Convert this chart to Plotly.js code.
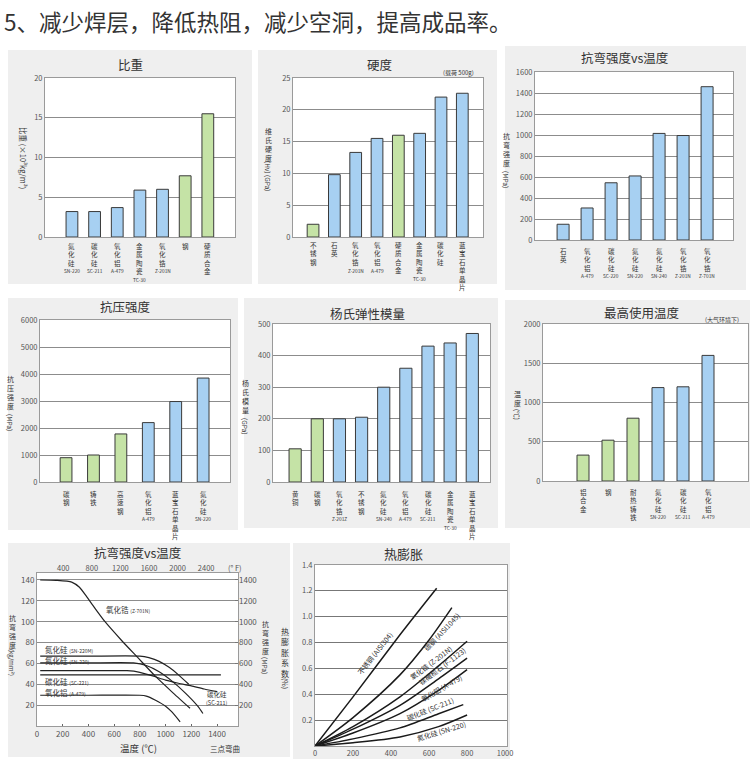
<!DOCTYPE html>
<html><head><meta charset="utf-8">
<script src="https://cdn.plot.ly/plotly-3.0.1.min.js"></script>
<style>html,body{margin:0;padding:0;background:#fff}#chart{width:750px;height:759px}</style>
</head><body><div id="chart"></div>
<script>
// ================= DATA =================
// 比重
const sgCats=['氮化硅','碳化硅','氧化铝','金属陶瓷','氧化锆','钢','硬质合金'];
const sgModels=['SN-220','SC-211','A-479','TC-30','Z-201N','',''];
const sgVals=[3.2,3.2,3.7,5.9,6.0,7.7,15.5];
const sgGroups=['c','c','c','c','c','m','m'];
// 硬度
const hdCats=['不锈钢','石英','氧化锆','氧化铝','硬质合金','金属陶瓷','碳化硅','蓝宝石单晶片'];
const hdModels=['','','Z-201N','A-479','','TC-30','',''];
const hdVals=[2.0,9.8,13.3,15.5,16.0,16.3,22.0,22.6];
const hdGroups=['m','c','c','c','m','c','c','c'];
// 抗弯强度
const fsCats=['石英','氧化铝','碳化硅','氮化硅','氮化硅','氧化锆','氧化锆'];
const fsModels=['','A-479','SC-220','SN-220','SN-240','Z-201N','Z-701N'];
const fsVals=[150,305,545,610,1015,995,1460];
const fsGroups=['c','c','c','c','c','c','c'];
// 抗压强度
const csCats=['碳钢','铸铁','高速钢','氧化铝','蓝宝石单晶片','氮化硅'];
const csModels=['','','','A-479','','SN-220'];
const csVals=[900,1000,1780,2200,2980,3850];
const csGroups=['m','m','m','c','c','c'];
// 杨氏弹性模量
const ymCats=['黄铜','碳钢','氧化锆','不锈钢','氮化硅','氧化铝','碳化硅','金属陶瓷','蓝宝石单晶片'];
const ymModels=['','','Z-201Z','','SN-240','A-479','SC-211','TC-30',''];
const ymVals=[105,200,200,205,300,360,430,440,470];
const ymGroups=['m','m','c','c','c','c','c','c','c'];
// 最高使用温度
const mtCats=['铝合金','钢','耐热铸铁','氮化硅','碳化硅','氧化铝'];
const mtModels=['','','','SN-220','SC-211','A-479'];
const mtVals=[330,520,800,1190,1200,1600];
const mtGroups=['m','m','m','c','c','c'];
// 抗弯强度 vs 温度 (°C, kg/mm²)
const btNames=['氧化锆','氮化硅','氮化硅','碳化硅','碳化硅','氧化铝'];
const btModels=['(Z-701N)','(SN-220M)','(SN-220)','(SC-211)','(SC-221)','(A-479)'];
const btT=[
 [25,150,270,330,386,450,529,658,788,918,1047,1190],
 [25,400,800,870,950,1030,1100,1180],
 [25,400,750,850,950,1050,1150,1250,1290],
 [25,400,700,800,900,1000,1100,1200,1300,1400],
 [25,1430],
 [25,400,800,850,918,1000,1047,1113]
];
const btS=[
 [140,139.6,138,133,124,113,100,82,65,48,33,17],
 [67,67,67,65.5,62,56,49,40],
 [60.5,60.5,60.5,58,52,43,32,19,12],
 [53,53,53,51.5,48,44,41,38.5,35.5,33],
 [49,49],
 [29.5,29.5,29.5,28.7,25,19,13.7,4]
];
const btLeftTicks=[20,40,60,80,100,120,140];
const btRightTicks=[200,400,600,800,1000,1200,1400];
const btTopTicks=[400,800,1200,1600,2000,2400,2800];
const btTopText=['400','800','1200','1600','2000','2400','(° F)'];
// 热膨胀 (°C, %)
const teNames=['不锈钢','碳钢','氧化锆','镁橄榄石','氧化铝','碳化硅','氮化硅'];
const teModels=['(AISI304)','(AISI1045)','(Z-201N)','(F-1123)','(A-479)','(SC-211)','(SN-220)'];
const teT=[[0,200,447,640],[0,200,447,600,720],[0,200,447,650,800],[0,200,447,650,800],[0,200,447,650,800],[0,200,447,650,780],[0,200,447,650,800]];
const teE=[[0,0.38,0.86,1.22],[0,0.22,0.55,0.82,1.07],[0,0.15,0.38,0.62,0.81],[0,0.13,0.315,0.52,0.68],[0,0.1,0.25,0.43,0.59],[0,0.055,0.14,0.25,0.32],[0,0.025,0.07,0.15,0.24]];

// ================= STYLE / LAYOUT =================
const W=750,H=759;
const fx=x=>x/W, fy=y=>1-y/H;
const FONT='"Noto Sans CJK SC","Noto Sans",sans-serif';
const BLUE='#a7d0f2', GREEN='#c5e3a6', EDGE='#3a3a3a', GRID='#8c8c8c', CARD='#efefef', TXT='#333', TICK='#555';
const axN=(t,n)=>t+'axis'+(n===1?'':n), axR=(t,n)=>t+(n===1?'':n);
const CH=6.5, CSTEP=CH*1.3;

const traces=[], annotations=[], shapes=[];
const layout={width:W,height:H,margin:{l:0,r:0,t:0,b:0},paper_bgcolor:'#fff',plot_bgcolor:'rgba(0,0,0,0)',
  showlegend:false,font:{family:FONT,color:TXT},annotations,shapes};

function ann(o){annotations.push(Object.assign({showarrow:false,xref:'paper',yref:'paper',xanchor:'center',yanchor:'middle',borderpad:0,font:{family:FONT,size:8,color:TXT}},o));}
function ptxt(xpx,ypx,text,size,extra){ann(Object.assign({x:fx(xpx),y:fy(ypx),text,font:{family:FONT,size,color:TXT}},extra||{}));}
// vertical (top-to-bottom) text; ypx0 = centre of first character
function vstack(xpx,ypx0,str,size){ptxt(xpx,ypx0-size*0.65,[...str].join('<br>'),size,{yanchor:'top'});}
function card(c,b){
  shapes.push({type:'rect',xref:'paper',yref:'paper',x0:fx(c[0]),x1:fx(c[1]),y0:fy(c[3]),y1:fy(c[2]),fillcolor:CARD,line:{width:0},layer:'below'});
  shapes.push({type:'rect',xref:'paper',yref:'paper',x0:fx(b[0]),x1:fx(b[1]),y0:fy(b[3]),y1:fy(b[2]),fillcolor:'#fff',line:{width:0},layer:'below'});
}

const barPanels=[
 {n:1,cats:sgCats,models:sgModels,vals:sgVals,groups:sgGroups,title:'比重',tp:[130,65],box:[45,235,78,237],card:[8,252,50,284],xr:[-1.19,7.2],bw:0.52,yr:[0,20],dt:5,off:7,
  ylab:{rot:'比重 (×10³kg/m³)',x:24,y:158}},
 {n:2,cats:hdCats,models:hdModels,vals:hdVals,groups:hdGroups,title:'硬度',tp:[380,64],box:[293,483,78,237],card:[258,497,50,284],xr:[-0.94,7.97],bw:0.55,yr:[0,25],dt:5,off:6.5,
  ylab:{cjk:'维氏硬度',x:268,y:130,unit:'(Hv) (GPa)',uy:176},note:{t:'(载荷 500g)',x:458,y:73}},
 {n:3,cats:fsCats,models:fsModels,vals:fsVals,groups:fsGroups,title:'抗弯强度vs温度',tp:[625,58],box:[535,733,72,240],card:[505,746,46,290],xr:[-1.17,7.08],bw:0.5,yr:[0,1600],dt:200,off:9,
  ylab:{cjk:'抗弯强度',x:506,y:135,unit:'(MPa)',uy:179}},
 {n:4,cats:csCats,models:csModels,vals:csVals,groups:csGroups,title:'抗压强度',tp:[125,307],box:[40,230,320,482],card:[8,238,298,530],xr:[-0.95,5.98],bw:0.43,yr:[0,6000],dt:1000,off:10,
  ylab:{cjk:'抗压强度',x:10,y:378,unit:'(MPa)',uy:422}},
 {n:5,cats:ymCats,models:ymModels,vals:ymVals,groups:ymGroups,title:'杨氏弹性模量',tp:[367,313],box:[273,490,324,482],card:[244,498,298,528],xr:[-1.0,8.8],bw:0.55,yr:[0,500],dt:100,off:10,
  ylab:{cjk:'杨氏模量',x:245,y:382,unit:'(GPa)',uy:426}},
 {n:6,cats:mtCats,models:mtModels,vals:mtVals,groups:mtGroups,title:'最高使用温度',tp:[642,312],box:[543,748,324,481],card:[505,750,300,528],xr:[-1.6,6.6],bw:0.48,yr:[0,2000],dt:500,off:9,
  ylab:{cjk:'温度',x:517,y:393,unit:'(℃)',uy:414},note:{t:'(大气环境下)',x:722,y:319}}
];

barPanels.forEach(p=>{
  const [L,R,T,B]=p.box;
  card(p.card,p.box);
  const xa=axR('x',p.n), ya=axR('y',p.n);
  traces.push({type:'bar',x:p.cats.map((c,i)=>i),y:p.vals,xaxis:xa,yaxis:ya,width:p.bw,hoverinfo:'skip',
    marker:{color:p.groups.map(g=>g==='m'?GREEN:BLUE),line:{color:EDGE,width:1}}});
  layout[axN('x',p.n)]={domain:[fx(L),fx(R)],range:p.xr,anchor:ya,showticklabels:false,showgrid:false,zeroline:false,
    showline:true,mirror:true,linecolor:'#9a9a9a',linewidth:1,ticks:'',fixedrange:true};
  layout[axN('y',p.n)]={domain:[fy(B),fy(T)],range:p.yr,dtick:p.dt,tick0:0,anchor:xa,showgrid:true,gridcolor:GRID,gridwidth:1,
    zeroline:false,showline:true,mirror:true,linecolor:'#9a9a9a',linewidth:1,ticks:'',tickfont:{size:7.5,color:TICK},fixedrange:true};
  ptxt(p.tp[0],p.tp[1],p.title,12.5);
  if(p.note) ptxt(p.note.x,p.note.y,p.note.t,6);
  // category labels: stacked vertical characters + small model code
  p.cats.forEach((c,i)=>{
    const chars=[...c];
    ann({xref:xa,x:i,y:fy(B+p.off-CH*0.65),yanchor:'top',text:chars.join('<br>'),font:{family:FONT,size:CH,color:TXT}});
    if(p.models[i]) ann({xref:xa,x:i,y:fy(B+p.off+(chars.length-1)*CSTEP+10),text:p.models[i],font:{family:FONT,size:4.8,color:TXT}});
  });
  const yl=p.ylab;
  if(yl.rot){ptxt(yl.x,yl.y,yl.rot,7.5,{textangle:90});}
  else{vstack(yl.x,yl.y,yl.cjk,7);ptxt(yl.x,yl.uy,yl.unit,6.5,{textangle:90});}
});

// ---------- Panel 7: 抗弯强度 vs 温度 (lines) ----------
{
  const L=37,R=238,T=573,B=726;
  card([8,290,543,757],[L,R,T,B]);
  btT.forEach((t,k)=>traces.push({type:'scatter',mode:'lines',x:t,y:btS[k],xaxis:'x7',yaxis:'y7',hoverinfo:'skip',
    line:{color:'#222',width:1.2,shape:'spline',smoothing:0.6}}));
  traces.push({type:'scatter',mode:'none',x:[null],y:[null],xaxis:'x9',yaxis:'y9',hoverinfo:'skip'});
  layout.xaxis7={domain:[fx(L),fx(R)],range:[0,1563],anchor:'y7',dtick:200,tick0:0,showgrid:false,zeroline:false,showline:true,mirror:true,
    linecolor:'#9a9a9a',ticks:'inside',ticklen:2,tickcolor:'#666',tickfont:{size:8,color:TICK},fixedrange:true};
  layout.yaxis7={domain:[fy(B),fy(T)],range:[0,146.7],anchor:'x7',tickvals:btLeftTicks,showgrid:true,gridcolor:GRID,zeroline:false,
    showline:true,mirror:true,linecolor:'#9a9a9a',ticks:'',tickfont:{size:8,color:TICK},fixedrange:true};
  layout.xaxis9={overlaying:'x7',side:'top',anchor:'y7',range:[32,32+1.8*1563],tickvals:btTopTicks,ticktext:btTopText,showgrid:false,zeroline:false,
    showline:false,ticks:'',tickfont:{size:7.5,color:TICK},fixedrange:true};
  layout.yaxis9={overlaying:'y7',side:'right',anchor:'x7',range:[0,1467],tickvals:btRightTicks,showgrid:false,zeroline:false,
    showline:false,ticks:'inside',ticklen:3,tickcolor:'#777',tickfont:{size:8,color:TICK},fixedrange:true};
  ptxt(138,552,'抗弯强度vs温度',12.5);
  // curve labels
  const labPos=[[529,112],[54,73],[54,63],null,[54,43],[54,32.6]];
  labPos.forEach((lp,k)=>{ if(!lp) return;
    ann({xref:'x7',yref:'y7',x:lp[0],y:lp[1],xanchor:'left',text:btNames[k]+' <span style="font-size:5px">'+btModels[k]+'</span>',font:{family:FONT,size:7.5,color:TXT}});
  });
  ann({xref:'x7',yref:'y7',x:1318,y:30.5,xanchor:'left',text:btNames[3],font:{family:FONT,size:6.5,color:TXT}});
  ann({xref:'x7',yref:'y7',x:1305,y:22,xanchor:'left',text:btModels[3],font:{family:FONT,size:5.5,color:TXT}});
  // axis titles
  vstack(12,617,'抗弯强度',7); ptxt(12,662,'(kg/mm²)',6,{textangle:90});
  vstack(265,623,'抗弯强度',7); ptxt(265,665,'(MPa)',6.5,{textangle:90});
  ptxt(138,748,'温度 (℃)',9.5);
  ptxt(225,748,'三点弯曲',7.5);
}

// ---------- Panel 8: 热膨胀 ----------
{
  const L=315,R=507,T=565,B=746;
  card([293,510,543,759],[L,R,T,B]);
  teT.forEach((t,k)=>traces.push({type:'scatter',mode:'lines',x:t,y:teE[k],xaxis:'x8',yaxis:'y8',hoverinfo:'skip',
    line:{color:'#1a1a1a',width:1.5,shape:'spline',smoothing:0.8}}));
  layout.xaxis8={domain:[fx(L),fx(R)],range:[0,1010],anchor:'y8',dtick:200,tick0:0,showgrid:false,zeroline:false,showline:true,mirror:true,
    linecolor:'#9a9a9a',ticks:'',tickfont:{size:7.5,color:TICK},fixedrange:true};
  layout.yaxis8={domain:[fy(B),fy(T)],range:[0,1.4],anchor:'x8',tickvals:[0.2,0.4,0.6,0.8,1.0,1.2,1.4],ticktext:['0.2','0.4','0.6','0.8','1.0','1.2','1.4'],
    showgrid:true,gridcolor:'#777',zeroline:false,showline:true,mirror:true,linecolor:'#9a9a9a',ticks:'',tickfont:{size:7.5,color:TICK},fixedrange:true};
  ptxt(403,553,'热膨胀',13);
  const tl=[[316,0.72,-52],[667,0.88,-47],[609,0.64,-37],[670,0.62,-37],[667,0.445,-30],[605,0.29,-22],[667,0.116,-17]];
  tl.forEach((p,k)=>ann({xref:'x8',yref:'y8',x:p[0],y:p[1],textangle:p[2],text:teNames[k]+' '+teModels[k],font:{family:FONT,size:7,color:TXT}}));
  vstack(285,630,'热膨胀系数',8); ptxt(285,683,'(%)',7,{textangle:90});
  ptxt(400,757,'温度 (℃)',9.5,{yanchor:'top'});
}

// page heading
ptxt(3,21,'5、减少焊层，降低热阻，减少空洞，提高成品率。',22.5,{xanchor:'left'});

Plotly.newPlot('chart',traces,layout,{displayModeBar:false,staticPlot:true});
</script></body></html>
